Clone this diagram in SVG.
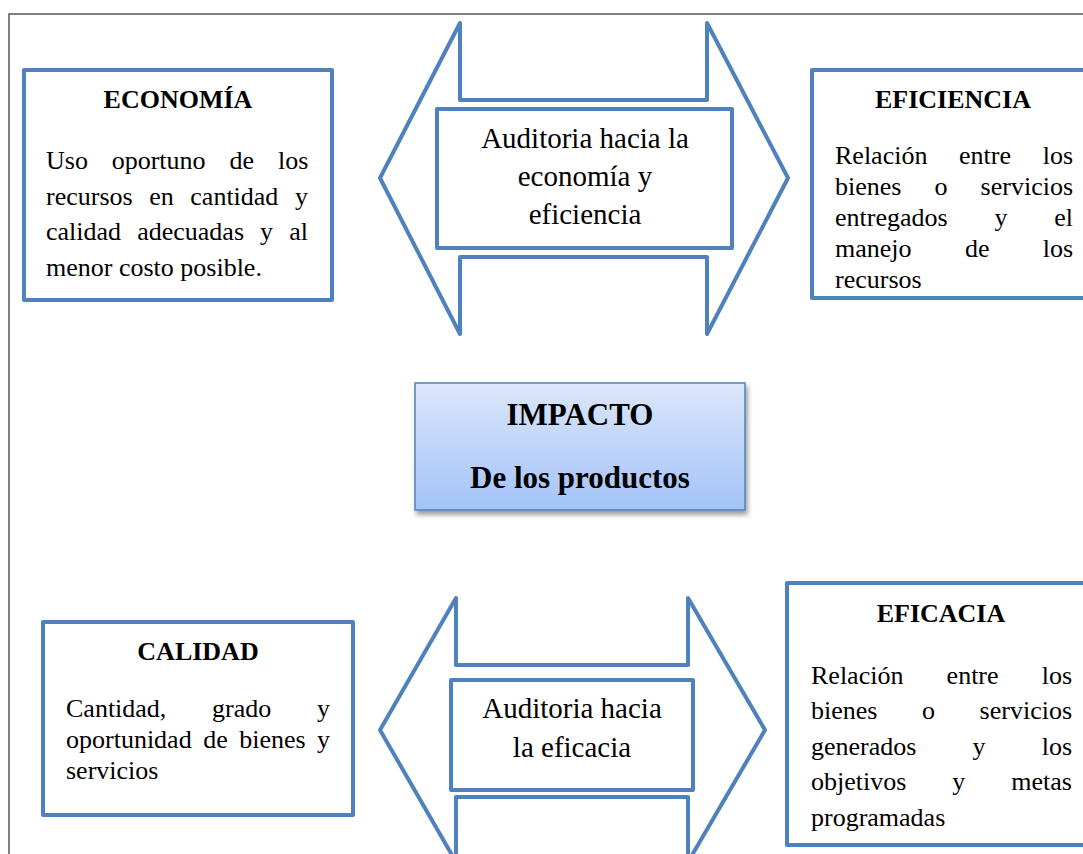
<svg xmlns="http://www.w3.org/2000/svg" width="1083" height="854" viewBox="0 0 1083 854">
  <style>
    .box { fill: #ffffff; stroke: #4f81bd; stroke-width: 4; stroke-linejoin: round; }
    .arrow { fill: #ffffff; stroke: #4f81bd; stroke-width: 4; stroke-linejoin: round; }
    .frame { fill: none; stroke: #555555; stroke-width: 1.5; }
    .title { font-family: "Liberation Serif", "Times New Roman", serif; font-weight: bold; font-size: 26px; fill: #000; text-anchor: middle; }
    .body { font-family: "Liberation Serif", "Times New Roman", serif; font-size: 26px; fill: #000; }
    .mid { font-family: "Liberation Serif", "Times New Roman", serif; font-size: 29px; fill: #000; text-anchor: middle; }
    .big { font-family: "Liberation Serif", "Times New Roman", serif; font-weight: bold; font-size: 31px; fill: #000; text-anchor: middle; }
  </style>
  <defs>
    <linearGradient id="impactFill" x1="0" y1="0" x2="0" y2="1">
      <stop offset="0" stop-color="#dce7fb"/>
      <stop offset="1" stop-color="#a4c3f8"/>
    </linearGradient>
    <filter id="shadow" x="-10%" y="-10%" width="125%" height="135%">
      <feDropShadow dx="2" dy="4" stdDeviation="2.5" flood-color="#000" flood-opacity="0.4"/>
    </filter>
  </defs>

  <rect width="1083" height="854" fill="#ffffff"/>

  <!-- page frame -->
  <path class="frame" d="M9,854 V14 H1083"/>

  <!-- double-headed arrows -->
  <g id="connectors">
    <polygon class="arrow" points="380,178 460,23 460,100 707,100 707,23 788,178 707,334 707,257 460,257 460,334"/>
    <polygon class="arrow" points="380,730 456,598 456,665 688,665 688,598 765,730 688,862 688,797 456,797 456,862"/>
  </g>

  <!-- ECONOMÍA -->
  <g id="economia">
    <rect class="box" x="24" y="70" width="308" height="230"/>
    <text class="title" x="178" y="108">ECONOMÍA</text>
    <text class="body" y="169"><tspan x="46">Uso</tspan><tspan x="111.7">oportuno</tspan><tspan x="229.4">de</tspan><tspan x="278">los</tspan></text>
    <text class="body" y="204.5"><tspan x="46">recursos</tspan><tspan x="149.2">en</tspan><tspan x="190.3">cantidad</tspan><tspan x="295">y</tspan></text>
    <text class="body" y="240"><tspan x="46">calidad</tspan><tspan x="137.2">adecuadas</tspan><tspan x="260.1">y</tspan><tspan x="289.2">al</tspan></text>
    <text class="body" x="46" y="275.5">menor costo posible.</text>
  </g>

  <!-- Auditoria hacia la economía y eficiencia -->
  <g id="auditoria-economia">
    <rect class="box" x="437" y="109" width="295" height="139"/>
    <text class="mid" x="585" y="148">Auditoria hacia la</text>
    <text class="mid" x="585" y="186">economía y</text>
    <text class="mid" x="585" y="224">eficiencia</text>
  </g>

  <!-- EFICIENCIA -->
  <g id="eficiencia">
    <rect class="box" x="812" y="70" width="290" height="228"/>
    <text class="title" x="953" y="108">EFICIENCIA</text>
    <text class="body" y="164"><tspan x="835">Relación</tspan><tspan x="959">entre</tspan><tspan x="1042.7">los</tspan></text>
    <text class="body" y="195"><tspan x="835">bienes</tspan><tspan x="934.5">o</tspan><tspan x="980.6">servicios</tspan></text>
    <text class="body" y="226"><tspan x="835">entregados</tspan><tspan x="994.4">y</tspan><tspan x="1054.2">el</tspan></text>
    <text class="body" y="257"><tspan x="835">manejo</tspan><tspan x="964.9">de</tspan><tspan x="1042.7">los</tspan></text>
    <text class="body" x="835" y="288">recursos</text>
  </g>

  <!-- IMPACTO -->
  <g id="impacto">
    <rect x="415" y="383" width="330" height="127" fill="url(#impactFill)" stroke="#4f81bd" stroke-width="1.5" filter="url(#shadow)"/>
    <text class="big" x="580" y="425">IMPACTO</text>
    <text class="big" x="580" y="488">De los productos</text>
  </g>

  <!-- CALIDAD -->
  <g id="calidad">
    <rect class="box" x="43" y="622" width="310" height="193"/>
    <text class="title" x="198" y="660">CALIDAD</text>
    <text class="body" y="717"><tspan x="66">Cantidad,</tspan><tspan x="212.1">grado</tspan><tspan x="317">y</tspan></text>
    <text class="body" y="748"><tspan x="66">oportunidad</tspan><tspan x="203.2">de</tspan><tspan x="239.2">bienes</tspan><tspan x="317">y</tspan></text>
    <text class="body" x="66" y="779">servicios</text>
  </g>

  <!-- Auditoria hacia la eficacia -->
  <g id="auditoria-eficacia">
    <rect class="box" x="451" y="680" width="242" height="110"/>
    <text class="mid" x="572" y="718">Auditoria hacia</text>
    <text class="mid" x="572" y="757">la eficacia</text>
  </g>

  <!-- EFICACIA -->
  <g id="eficacia">
    <rect class="box" x="787" y="583" width="310" height="262"/>
    <text class="title" x="941" y="622">EFICACIA</text>
    <text class="body" y="684"><tspan x="811">Relación</tspan><tspan x="946.6">entre</tspan><tspan x="1041.7">los</tspan></text>
    <text class="body" y="719"><tspan x="811">bienes</tspan><tspan x="922">o</tspan><tspan x="979.6">servicios</tspan></text>
    <text class="body" y="755"><tspan x="811">generados</tspan><tspan x="972.6">y</tspan><tspan x="1041.7">los</tspan></text>
    <text class="body" y="790"><tspan x="811">objetivos</tspan><tspan x="952.3">y</tspan><tspan x="1011.3">metas</tspan></text>
    <text class="body" x="811" y="826">programadas</text>
  </g>
</svg>
